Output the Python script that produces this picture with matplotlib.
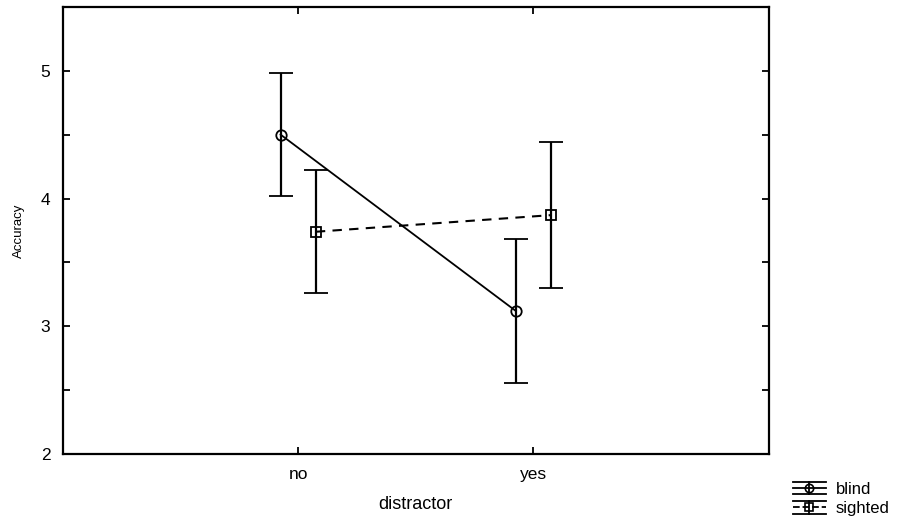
import numpy as np
import matplotlib.pyplot as plt
from matplotlib.legend_handler import HandlerBase
from matplotlib.lines import Line2D

plt.rcParams['font.family'] = ['Liberation Sans', 'DejaVu Sans']

categories = ["no", "yes"]
groups = ["blind", "sighted"]
blind_mean = [4.50, 3.12]
blind_err = [0.48, 0.56]
sighted_mean = [3.74, 3.87]
sighted_err = [0.48, 0.57]


class HandlerErrRow(HandlerBase):
    # legend symbol: cap line above, line with marker, cap line below
    def create_artists(self, legend, orig_handle, xdescent, ydescent,
                       width, height, fontsize, trans):
        xl, xr = -xdescent, -xdescent + width
        yc = -ydescent + height / 2
        dy = height * 0.42
        arts = []
        for y in (yc - dy, yc + dy):
            arts.append(Line2D([xl, xr], [y, y], color="black", lw=1.3,
                               transform=trans))
        mid = Line2D([xl, xr], [yc, yc], color="black", lw=1.3,
                     ls=orig_handle.get_linestyle(), transform=trans)
        mk = Line2D([(xl + xr) / 2], [yc], marker=orig_handle.get_marker(),
                    ms=6, mfc="none", mec="black", mew=1.2, ls="none",
                    transform=trans)
        vl = Line2D([(xl + xr) / 2] * 2, [yc - dy, yc + dy], color="black",
                    lw=1.3, transform=trans)
        arts += [mid, vl, mk]
        return arts


fig = plt.figure(figsize=(9.06, 5.22), dpi=100)
ax = fig.add_axes([0.0695, 0.130, 0.779, 0.857])

x = np.arange(1, len(categories) + 1)
off = 0.075

eb1 = ax.errorbar(x - off, blind_mean, yerr=blind_err, fmt="-o", color="black",
                  mfc="none", mec="black", mew=1.3, ms=7.5, lw=1.3,
                  elinewidth=1.6, capsize=8.5, capthick=1.6)
eb2 = ax.errorbar(x + off, sighted_mean, yerr=sighted_err, fmt="--s", color="black",
                  mfc="none", mec="black", mew=1.3, ms=7, lw=1.5,
                  elinewidth=1.6, capsize=8.5, capthick=1.6, dashes=(4.5, 3.5))

ax.set_xlim(0, 3)
ax.set_ylim(2, 5.5)
ax.set_xticks(x)
ax.set_xticklabels(categories)
ax.set_yticks([2, 3, 4, 5])
ax.set_yticks(np.arange(2, 5.6, 0.5), minor=True)
ax.tick_params(which="both", direction="in", top=True, right=True,
               length=5, width=1.3, labelsize=12.5, pad=9)
ax.tick_params(axis="x", which="minor", bottom=False, top=False)
for s in ax.spines.values():
    s.set_linewidth(1.6)

ax.set_xlabel("distractor", fontsize=13, labelpad=10)
ax.set_ylabel("Accuracy", fontsize=9.5, labelpad=11)

h1 = Line2D([], [], ls="-", marker="o")
h2 = Line2D([], [], ls="--", marker="s")
ax.legend([h1, h2], groups, handler_map={Line2D: HandlerErrRow()},
          loc="upper left", bbox_to_anchor=(1.022, -0.040), frameon=False,
          fontsize=12, handlelength=2.0, handleheight=1.0, handletextpad=0.6,
          labelspacing=0.2, borderpad=0)

fig.savefig("out.png", dpi=100)
